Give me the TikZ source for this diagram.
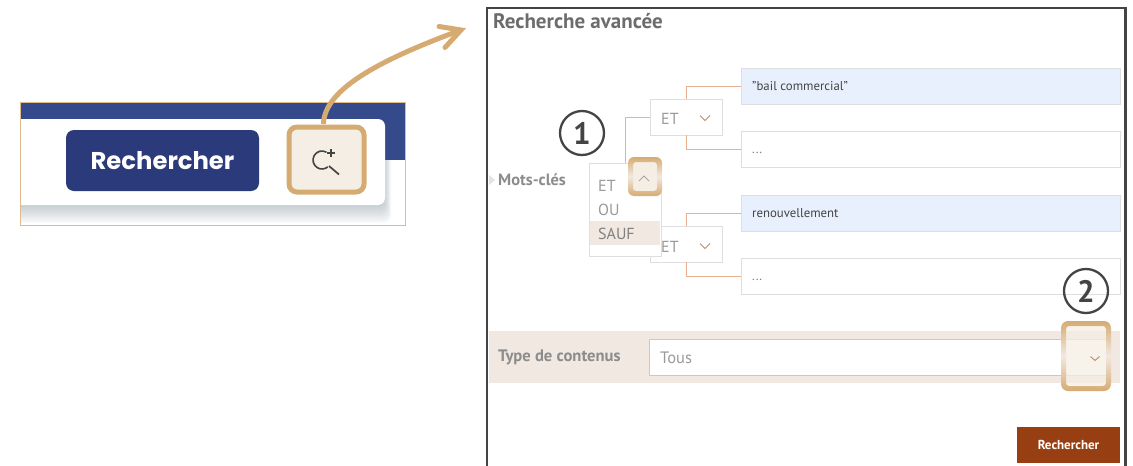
\documentclass[tikz,border=0pt]{standalone}
\usepackage{fontspec}
\setmainfont{PT Sans}
\newfontfamily\popp{Poppins}
\definecolor{tan1}{HTML}{D6AB72}
\definecolor{cream}{HTML}{F5EEE4}
\definecolor{bandc}{HTML}{F1E8E1}
\definecolor{linkc}{HTML}{E8B08F}
\definecolor{boxl}{HTML}{DEDEDE}
\definecolor{darkg}{HTML}{444444}
\definecolor{navy}{HTML}{2B3A7A}
\definecolor{band}{HTML}{344A8A}
\definecolor{chev}{HTML}{C08A6E}
\definecolor{brownb}{HTML}{973F12}
\definecolor{inblue}{HTML}{E8F0FD}
\definecolor{labg}{HTML}{8C8C8C}
\definecolor{optg}{HTML}{9A9A9A}
\definecolor{shadowc}{HTML}{5F7380}
\tikzset{
  pxbox/.style={inner sep=0pt,outer sep=0pt},
  etbox/.style={pxbox,draw=boxl,line width=1pt,fill=white,minimum width=72pt,minimum height=36pt},
  inbox/.style={pxbox,draw=boxl,line width=1pt,minimum width=379pt,minimum height=36pt},
  link/.style={draw=linkc,line width=1pt},
  chevron/.style={draw=chev,line width=1pt},
  lab/.style={inner sep=0pt,anchor=west,text=labg},
  opt/.style={lab,text=optg,font=\fontsize{16}{16}\selectfont},
  val/.style={lab,text=darkg,font=\fontsize{12.8}{13}\selectfont},
  num/.style={circle,draw=darkg,line width=2.3pt,minimum size=44pt,inner sep=0pt,text=darkg,font=\fontsize{31}{31}\selectfont\bfseries},
  glow/.style={even odd rule,top color=tan1,bottom color=tan1,middle color=bandc}
}
\begin{document}
\begin{tikzpicture}[x=1pt,y=-1pt]
\useasboundingbox (0,0) rectangle (1133,466);
% ---- left screenshot
\fill[band] (21,103) rectangle (405,160);
\begin{scope}
  \clip (21,160) rectangle (405,225);
  \foreach \i in {1,...,16}{
    \fill[shadowc,opacity=.028,rounded corners=7pt] (10,150) rectangle ({384+\i*0.45},{204+\i*1.2});
  }
\end{scope}
\node[pxbox,fill=white,rounded corners=7pt,minimum width=370pt,minimum height=86pt,anchor=north west] (card) at (15,119) {};
\fill[white] (0,110) rectangle (20,215);
\draw[tan1!80!white,line width=1pt] (20.5,102.5) rectangle (405.5,225.5);
\node[pxbox,fill=navy,rounded corners=8pt,minimum width=193pt,minimum height=61pt,text=white,
  font=\popp\bfseries\fontsize{24.3}{25}\selectfont] (go) at (162.5,160.5) {Rechercher};
\node[pxbox,fill=cream,draw=tan1,line width=5pt,rounded corners=8pt,minimum width=75pt,minimum height=65pt] (zoomb) at (326.5,159.5) {};
\draw[darkg,line width=1.6pt] (326.5,152.2) arc[start angle=60,end angle=310,radius=9pt];
\draw[darkg,line width=1.7pt] (329,166) -- (339,174.5);
\draw[darkg,line width=1.7pt] (331,149) -- (331,157) (327,153) -- (335,153);
\coordinate (tip) at (461,30);
\coordinate (tail) at (323.5,124);
\draw[tan1,line width=5pt] (tail) .. controls (324,88) and (385,58) .. (tip);
\draw[tan1,line width=5pt,line cap=round,line join=miter] (439,26.5) -- (tip) -- (445,47.5);
% ---- right panel
\draw[darkg,line width=2.5pt] (487,466) -- (487,8) -- (1125.5,8) -- (1125.5,466);
\node[lab,text=gray!85!black,font=\bfseries\fontsize{21}{21}\selectfont] (title) at (493,21.5) {Recherche avancée};
\fill[gray!22!white] (489,175) -- (495,180) -- (489,185) -- cycle;
\node[lab,font=\bfseries\fontsize{16.4}{16}\selectfont] (mots) at (498,180) {Mots-clés};
\node[inbox,fill=inblue,anchor=north west] (in1) at (741,68) {};
\node[inbox,fill=white,anchor=north west] (in2) at (741,131) {};
\node[inbox,fill=inblue,anchor=north west] (in3) at (741,195) {};
\node[inbox,fill=white,anchor=north west] (in4) at (741,258) {};
\node[etbox,anchor=north west] (et1) at (650,99) {};
\node[etbox,anchor=north west] (et2) at (650,226) {};
\coordinate (root) at (625,163);
\draw[link] (root) |- (et1.west);
\draw[link] (et1.north) |- (in1.west);
\draw[link] (et1.south) |- (in2.west);
\draw[link] (et2.north) |- (in3.west);
\draw[link] (et2.south) |- (in4.west);
\node[opt] (t1) at (661,118.5) {ET};
\node[opt] (t2) at (661,246.5) {ET};
\draw[chevron] (700,115.5) -- (705,120.5) -- (710,115.5);
\draw[chevron] (700,243.5) -- (705,248.5) -- (710,243.5);
\node[val] (v1) at (752,86) {"bail commercial"};
\node[val,text=gray] (v2) at (752,152.5) {...};
\node[val] (v3) at (752,213.5) {renouvellement};
\node[val,text=gray] (v4) at (752,279.5) {...};
% dropdown
\node[pxbox,draw=boxl,line width=1pt,fill=white,minimum width=72pt,minimum height=93pt,anchor=north west] (dd) at (589,163) {};
\fill[bandc] (590,221) rectangle (660,245);
\node[opt] (o1) at (598,186) {ET};
\node[opt] (o2) at (598,210) {OU};
\node[opt,text=gray] (o3) at (598,234) {SAUF};
\fill[cream,rounded corners=2pt] (630,159) rectangle (660,193);
\path[glow,rounded corners=6pt] (628,157) rectangle (662,196) [rounded corners=3pt] (633,162) rectangle (657,191);
\draw[gray!70!white,line width=1pt] (639,181) -- (644,176) -- (649,181);
\node[num] (n1) at (582,133) {1};
% type band
\fill[bandc] (488.5,331) rectangle (1120,383);
\node[lab,font=\bfseries\fontsize{16.6}{16}\selectfont] (type) at (498,357) {Type de contenus};
\node[pxbox,draw=boxl!90!black,line width=1pt,fill=white,minimum width=458pt,minimum height=36pt,anchor=north west] (sel) at (649,339.5) {};
\node[opt,font=\fontsize{16.5}{16}\selectfont] (tous) at (660,358) {Tous};
\fill[cream,opacity=.75] (1063,323) rectangle (1109,388);
\path[glow,rounded corners=7pt] (1061,321) rectangle (1111,391) [rounded corners=3pt] (1066,326) rectangle (1106,386);
\draw[chevron,line width=.9pt] (1090.5,356.5) -- (1095,360.5) -- (1099.5,356.5);
\node[num] (n2) at (1086,291) {2};
\node[pxbox,fill=brownb,text=white,minimum width=103pt,minimum height=36pt,anchor=north west,
  font=\bfseries\fontsize{13}{13}\selectfont] (submit) at (1017,427) {Rechercher};
\end{tikzpicture}
\end{document}
